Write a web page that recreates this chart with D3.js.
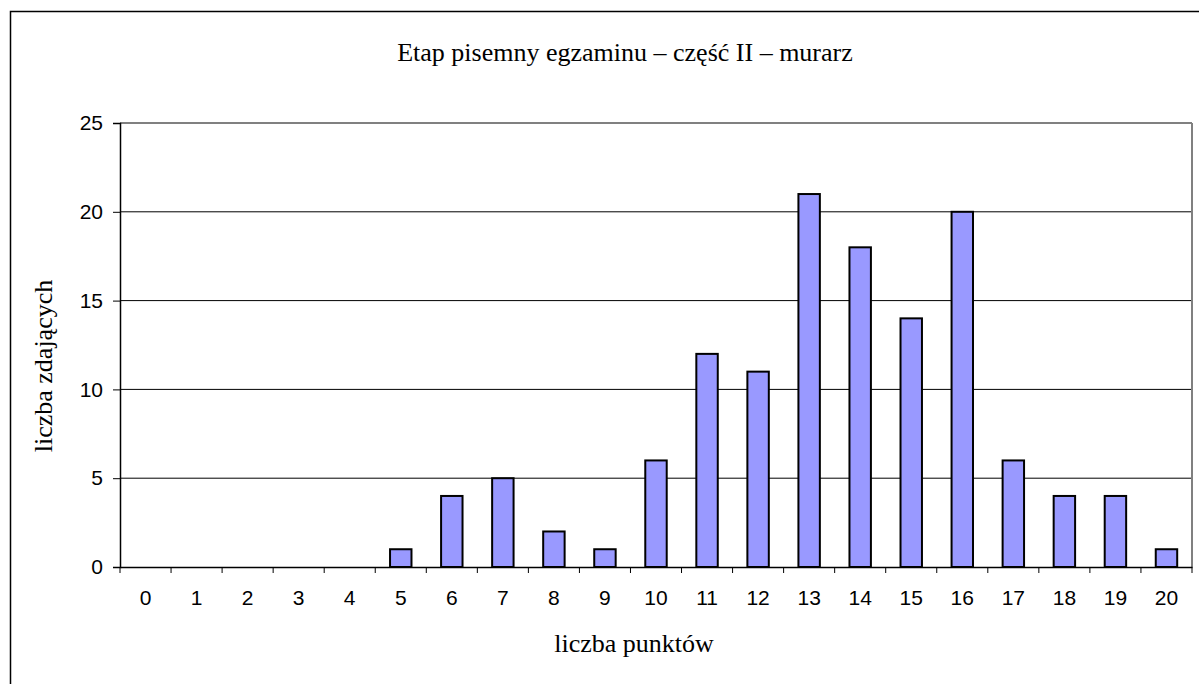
<!DOCTYPE html>
<html>
<head>
<meta charset="utf-8">
<script src="https://cdn.jsdelivr.net/npm/d3@7"></script>
<style>
body { margin: 0; background: #fff; }
</style>
</head>
<body>
<script>
const width = 1199;
const height = 684;

const categories = ["0","1","2","3","4","5","6","7","8","9","10","11","12","13","14","15","16","17","18","19","20"];
const counts = [0,0,0,0,0,1,4,5,2,1,6,12,11,21,18,14,20,6,4,4,1];
const yTicks = [0,5,10,15,20,25];

const plotLeft = 120, plotRight = 1192, plotTop = 123, plotBottom = 567;

const svg = d3.select("body")
  .append("svg")
  .attr("width", width)
  .attr("height", height);

// outer frame
svg.append("rect")
  .attr("x", 10.5).attr("y", 11.5)
  .attr("width", 1300).attr("height", 1000)
  .attr("fill", "none")
  .attr("stroke", "#000")
  .attr("stroke-width", 1.5);

var x = d3.scaleBand()
  .domain(categories)
  .range([plotLeft, plotRight])
  .paddingInner(0.58)
  .paddingOuter(0.29);

var y = d3.scaleLinear()
  .domain([0, 25])
  .range([plotBottom, plotTop]);

// gridlines
svg.append("g")
  .selectAll("line")
  .data(yTicks.filter(d => d > 0 && d < 25))
  .enter().append("line")
  .attr("x1", plotLeft).attr("x2", plotRight)
  .attr("y1", d => y(d)).attr("y2", d => y(d))
  .attr("stroke", "#000")
  .attr("stroke-width", 1);

// plot frame top/right in grey
svg.append("line")
  .attr("x1", plotLeft).attr("x2", plotRight)
  .attr("y1", plotTop).attr("y2", plotTop)
  .attr("stroke", "#808080").attr("stroke-width", 2);
svg.append("line")
  .attr("x1", plotRight).attr("x2", plotRight)
  .attr("y1", plotTop).attr("y2", plotBottom)
  .attr("stroke", "#808080").attr("stroke-width", 2);

// bars
var barData = categories.map((c, i) => ({ cat: c, value: counts[i] }))
  .filter(d => d.value > 0);

svg.append("g")
  .selectAll("rect")
  .data(barData)
  .enter().append("rect")
  .attr("x", d => x(d.cat))
  .attr("y", d => y(d.value))
  .attr("width", x.bandwidth())
  .attr("height", d => y(0) - y(d.value))
  .attr("fill", "#9999ff")
  .attr("stroke", "#000")
  .attr("stroke-width", 2);

// y axis
var yAxis = d3.axisLeft(y)
  .tickValues(yTicks)
  .tickSize(7)
  .tickPadding(10);
var gy = svg.append("g")
  .attr("transform", "translate(" + plotLeft + ",0)")
  .call(yAxis);
gy.select(".domain").attr("stroke", "#000").attr("stroke-width", 1.5);
gy.selectAll(".tick line").attr("stroke", "#000");
gy.selectAll("text")
  .style("font-family", "Arial, 'Liberation Sans', sans-serif")
  .style("font-size", "21px")
  .attr("fill", "#000");

// x axis: ticks between categories
var xAxis = d3.axisBottom(x).tickSize(0).tickPadding(23);
var gx = svg.append("g")
  .attr("transform", "translate(0," + plotBottom + ")")
  .call(xAxis);
gx.select(".domain").attr("stroke", "#000").attr("stroke-width", 1.5);
gx.selectAll("text")
  .style("font-family", "Arial, 'Liberation Sans', sans-serif")
  .style("font-size", "21px")
  .attr("fill", "#000");

var step = x.step();
var xStart = x(categories[0]) - x.paddingOuter() * step;
svg.append("g")
  .selectAll("line")
  .data(d3.range(categories.length + 1))
  .enter().append("line")
  .attr("x1", i => xStart + i * step).attr("x2", i => xStart + i * step)
  .attr("y1", plotBottom).attr("y2", plotBottom + 6)
  .attr("stroke", "#000").attr("stroke-width", 1);

// titles
svg.append("text")
  .attr("x", 625).attr("y", 61)
  .attr("text-anchor", "middle")
  .style("font-family", "'Liberation Serif', 'Times New Roman', serif")
  .style("font-size", "26px")
  .text("Etap pisemny egzaminu – część II – murarz");

svg.append("text")
  .attr("x", 634).attr("y", 652)
  .attr("text-anchor", "middle")
  .style("font-family", "'Liberation Serif', 'Times New Roman', serif")
  .style("font-size", "26px")
  .text("liczba punktów");

svg.append("text")
  .attr("transform", "translate(52,366) rotate(-90)")
  .attr("text-anchor", "middle")
  .style("font-family", "'Liberation Serif', 'Times New Roman', serif")
  .style("font-size", "26px")
  .text("liczba zdających");
</script>
</body>
</html>
